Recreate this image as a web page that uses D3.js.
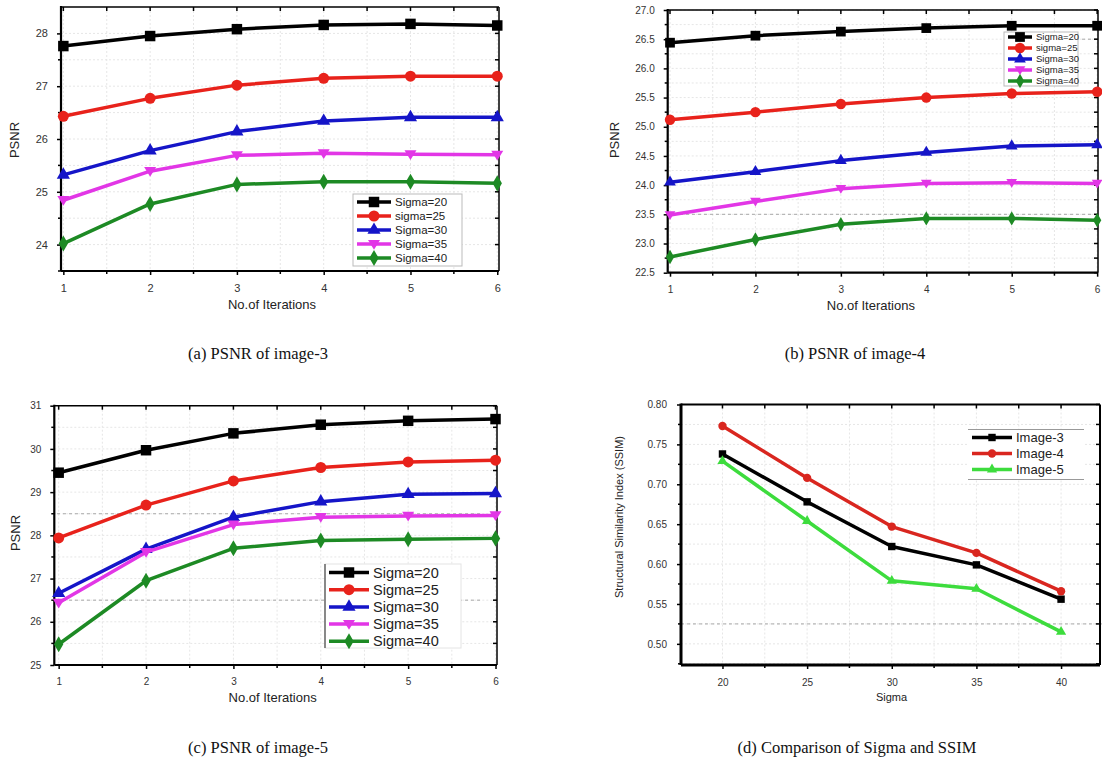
<!DOCTYPE html>
<html>
<head>
<meta charset="utf-8">
<script src="https://cdn.jsdelivr.net/npm/d3@7/dist/d3.min.js"></script>
<style>
  body { margin: 0; background: #fff; }
  svg { display: block; }
  .tick text { font-family: "Liberation Sans", Arial, sans-serif; fill: #333; }
  .cap { font-family: "Liberation Serif", "Times New Roman", serif; font-size: 16.5px; fill: #111; }
</style>
</head>
<body>
<svg id="fig" width="1102" height="767"></svg>
<script>
// ---- data ----
var iterations = [1, 2, 3, 4, 5, 6];
var sigmaNames = ['Sigma=20', 'sigma=25', 'Sigma=30', 'Sigma=35', 'Sigma=40'];
var sigmaNamesC = ['Sigma=20', 'Sigma=25', 'Sigma=30', 'Sigma=35', 'Sigma=40'];

var psnrImg3 = [
    [27.76, 27.95, 28.08, 28.16, 28.18, 28.15],
    [26.43, 26.77, 27.02, 27.15, 27.19, 27.19],
    [25.32, 25.78, 26.14, 26.34, 26.41, 26.41],
    [24.84, 25.39, 25.69, 25.73, 25.71, 25.70],
    [24.02, 24.77, 25.14, 25.19, 25.19, 25.16]
];
var psnrImg4 = [
    [26.44, 26.56, 26.63, 26.69, 26.73, 26.73],
    [25.12, 25.25, 25.39, 25.50, 25.57, 25.60],
    [24.05, 24.23, 24.42, 24.56, 24.67, 24.69],
    [23.49, 23.72, 23.94, 24.03, 24.04, 24.03],
    [22.77, 23.07, 23.33, 23.43, 23.43, 23.40]
];
var psnrImg5 = [
    [29.45, 29.97, 30.36, 30.56, 30.65, 30.69],
    [27.94, 28.70, 29.26, 29.57, 29.70, 29.74],
    [26.66, 27.68, 28.42, 28.78, 28.95, 28.97],
    [26.44, 27.61, 28.25, 28.42, 28.45, 28.46],
    [25.48, 26.95, 27.70, 27.88, 27.91, 27.93]
];

var sigmas = [20, 25, 30, 35, 40];
var imageNames = ['Image-3', 'Image-4', 'Image-5'];
var ssim = [
    [0.738, 0.678, 0.622, 0.599, 0.556],
    [0.773, 0.708, 0.647, 0.614, 0.566],
    [0.729, 0.654, 0.579, 0.569, 0.515]
];

var captions = ['(a) PSNR of image-3', '(b) PSNR of image-4', '(c) PSNR of image-5', '(d) Comparison of Sigma and SSIM'];

// ---- styles ----
var psnrColors = ['#000000', '#e8221b', '#1515c8', '#e236e6', '#1d8a24'];
var ssimColors = ['#000000', '#d9261f', '#3ddc3d'];

var triDown = {
    draw: function (ctx, size) {
        var h = Math.sqrt(size * 0.75);
        ctx.moveTo(0, h * 0.75);
        ctx.lineTo(h * 0.8, -h * 0.55);
        ctx.lineTo(-h * 0.8, -h * 0.55);
        ctx.closePath();
    }
};
var psnrShapes = [d3.symbolSquare, d3.symbolCircle, d3.symbolTriangle, triDown, d3.symbolDiamond];
var ssimShapes = [d3.symbolSquare, d3.symbolCircle, d3.symbolTriangle];

var svg = d3.select('#fig');

function drawPanel(p) {
    var x = d3.scaleLinear().domain(p.xDomain).range([p.left, p.right]);
    var y = d3.scaleLinear().domain(p.yDomain).range([p.bottom, p.top]);
    var g = svg.append('g');

    // grid
    var grid = g.append('g').attr('stroke', '#e6e6e6').attr('stroke-dasharray', '2,2').attr('stroke-width', 1);
    grid.selectAll('line.gx').data(p.xMinor.concat(p.xTicks)).enter().append('line')
        .attr('x1', function (d) { return x(d); }).attr('x2', function (d) { return x(d); })
        .attr('y1', p.top).attr('y2', p.bottom);
    grid.selectAll('line.gy').data(p.yMinor.concat(p.yTicks)).enter().append('line')
        .attr('y1', function (d) { return y(d); }).attr('y2', function (d) { return y(d); })
        .attr('x1', p.left).attr('x2', p.right);
    if (p.darkDash) {
        g.append('g').selectAll('line').data(p.darkDash).enter().append('line')
            .attr('x1', function (d) { return d[1]; }).attr('x2', function (d) { return d[2]; })
            .attr('y1', function (d) { return y(d[0]); }).attr('y2', function (d) { return y(d[0]); })
            .attr('stroke', '#aaa').attr('stroke-dasharray', '3,3').attr('stroke-width', 1);
    }

    // axes
    var ax = g.append('g').attr('transform', 'translate(0,' + p.bottom + ')')
        .call(d3.axisBottom(x).tickValues(p.xTicks).tickSize(4).tickPadding(p.tickPad).tickFormat(p.xFormat));
    var ay = g.append('g').attr('transform', 'translate(' + p.left + ',0)')
        .call(d3.axisLeft(y).tickValues(p.yTicks).tickSize(4).tickPadding(p.tickPad).tickFormat(p.yFormat));
    [ax, ay].forEach(function (a) {
        a.select('.domain').remove();
        a.selectAll('.tick line').attr('stroke', '#000').attr('stroke-width', 1.5);
        a.selectAll('.tick text').style('font-size', p.tickFont + 'px');
    });

    // minor and mirror ticks
    var tk = g.append('g').attr('stroke', '#000').attr('stroke-width', 1.5);
    tk.selectAll('line.bm').data(p.xMinor).enter().append('line')
        .attr('x1', function (d) { return x(d); }).attr('x2', function (d) { return x(d); })
        .attr('y1', p.bottom).attr('y2', p.bottom + 3);
    tk.selectAll('line.lm').data(p.yMinor).enter().append('line')
        .attr('y1', function (d) { return y(d); }).attr('y2', function (d) { return y(d); })
        .attr('x1', p.left).attr('x2', p.left - 3);
    tk.selectAll('line.tt').data(p.xMinor.concat(p.xTicks)).enter().append('line')
        .attr('x1', function (d) { return x(d); }).attr('x2', function (d) { return x(d); })
        .attr('y1', p.top).attr('y2', p.top + 4);
    tk.selectAll('line.rt').data(p.yMinor.concat(p.yTicks)).enter().append('line')
        .attr('y1', function (d) { return y(d); }).attr('y2', function (d) { return y(d); })
        .attr('x1', p.right).attr('x2', p.right - 4);

    // frame
    g.append('line').attr('x1', p.left).attr('x2', p.right).attr('y1', p.top).attr('y2', p.top)
        .attr('stroke', '#000').attr('stroke-width', p.thin);
    g.append('line').attr('x1', p.right).attr('x2', p.right).attr('y1', p.top).attr('y2', p.bottom)
        .attr('stroke', '#000').attr('stroke-width', p.thin);
    g.append('line').attr('x1', p.left).attr('x2', p.right).attr('y1', p.bottom).attr('y2', p.bottom)
        .attr('stroke', '#000').attr('stroke-width', p.thick);
    g.append('line').attr('x1', p.left).attr('x2', p.left).attr('y1', p.top - 1).attr('y2', p.bottom)
        .attr('stroke', '#000').attr('stroke-width', p.thick);

    // axis titles
    g.append('text').attr('x', (p.left + p.right) / 2 + p.xTitleDx).attr('y', p.xTitleY)
        .attr('text-anchor', 'middle').attr('font-family', 'Liberation Sans, Arial, sans-serif')
        .attr('font-size', p.titleFont).attr('fill', '#222').text(p.xTitle);
    g.append('text').attr('transform', 'translate(' + p.yTitleX + ',' + p.yTitleY + ') rotate(-90)')
        .attr('text-anchor', 'middle').attr('font-family', 'Liberation Sans, Arial, sans-serif')
        .attr('font-size', p.titleFont).attr('fill', '#222').text(p.yTitle);

    // series
    var line = d3.line().x(function (d) { return x(d[0]); }).y(function (d) { return y(d[1]); });
    var plot = g.append('g');
    p.series.forEach(function (vals, i) {
        var pts = p.xs.map(function (xv, j) { return [xv, vals[j]]; });
        plot.append('path').datum(pts).attr('d', line).attr('fill', 'none')
            .attr('stroke', p.colors[i]).attr('stroke-width', p.lineW).attr('stroke-linejoin', 'round');
        plot.selectAll('path.m' + i).data(pts).enter().append('path')
            .attr('d', d3.symbol().type(p.shapes[i]).size(p.markSize[i]))
            .attr('transform', function (d) { return 'translate(' + x(d[0]) + ',' + y(d[1]) + ')'; })
            .attr('fill', p.colors[i]);
    });

    // legend
    var L = p.legend;
    var lg = g.append('g');
    lg.append('rect').attr('x', L.x).attr('y', L.y).attr('width', L.w).attr('height', L.h)
        .attr('fill', '#fff').attr('stroke', L.border).attr('stroke-width', 1);
    if (L.leftEdge) {
        lg.append('line').attr('x1', L.x).attr('x2', L.x).attr('y1', L.y).attr('y2', L.y + L.h)
            .attr('stroke', '#444').attr('stroke-width', 1.2);
    }
    if (L.rules) {
        [L.y, L.y + L.h].forEach(function (ry) {
            lg.append('line').attr('x1', L.x).attr('x2', L.x + L.w).attr('y1', ry).attr('y2', ry)
                .attr('stroke', '#999');
        });
    }
    p.names.forEach(function (name, i) {
        var yy = L.y + L.pad + i * L.step;
        lg.append('line').attr('x1', L.x + 4).attr('x2', L.x + 4 + L.sample).attr('y1', yy).attr('y2', yy)
            .attr('stroke', p.colors[i]).attr('stroke-width', p.lineW);
        lg.append('path').attr('d', d3.symbol().type(p.shapes[i]).size(p.markSize[i]))
            .attr('transform', 'translate(' + (L.x + 4 + L.sample / 2) + ',' + yy + ')')
            .attr('fill', p.colors[i]);
        lg.append('text').attr('x', L.x + 8 + L.sample).attr('y', yy).attr('dy', '0.35em')
            .attr('font-family', 'Liberation Sans, Arial, sans-serif').attr('font-size', L.font)
            .attr('fill', '#222').text(name);
    });
}

var iterMinor = [1.5, 2.5, 3.5, 4.5, 5.5];

drawPanel({
    left: 61, right: 499, top: 7, bottom: 271,
    xDomain: [0.973, 6.02], yDomain: [23.5, 28.5],
    xTicks: iterations, xMinor: iterMinor,
    yTicks: [24, 25, 26, 27, 28], yMinor: [23.5, 24.5, 25.5, 26.5, 27.5],
    xFormat: d3.format('d'), yFormat: d3.format('d'),
    tickFont: 11, tickPad: 9, thin: 1.5, thick: 2.2,
    xTitle: 'No.of Iterations', xTitleY: 309, xTitleDx: -8,
    yTitle: 'PSNR', yTitleX: 19, yTitleY: 140, titleFont: 13,
    xs: iterations, series: psnrImg3, names: sigmaNames,
    colors: psnrColors, shapes: psnrShapes, markSize: [110, 95, 75, 75, 75], lineW: 3.5,
    legend: { x: 353, y: 194, w: 109, h: 72, pad: 8, step: 14, sample: 34, font: 11.5, border: '#bbb' }
});

drawPanel({
    left: 667.7, right: 1098, top: 10, bottom: 272.7,
    xDomain: [0.973, 6.01], yDomain: [22.5, 27.0],
    xTicks: iterations, xMinor: iterMinor,
    yTicks: d3.range(22.5, 27.01, 0.5), yMinor: d3.range(22.75, 27, 0.5),
    xFormat: d3.format('d'), yFormat: d3.format('.1f'),
    tickFont: 10, tickPad: 9, thin: 1.5, thick: 2.2,
    xTitle: 'No.of Iterations', xTitleY: 310, xTitleDx: -12,
    yTitle: 'PSNR', yTitleX: 619, yTitleY: 140, titleFont: 13,
    xs: iterations, series: psnrImg4, names: sigmaNames,
    colors: psnrColors, shapes: psnrShapes, markSize: [95, 85, 60, 60, 60], lineW: 3.5,
    darkDash: [[26.5, 1040, 1098], [23.5, 680, 1098]],
    legend: { x: 1004, y: 32, w: 74, h: 54, pad: 5, step: 11, sample: 24, font: 9.5, border: '#bbb' }
});

drawPanel({
    left: 54.3, right: 497, top: 405.7, bottom: 665,
    xDomain: [0.95, 6.017], yDomain: [25, 31],
    xTicks: iterations, xMinor: iterMinor,
    yTicks: [25, 26, 27, 28, 29, 30, 31], yMinor: [25.5, 26.5, 27.5, 28.5, 29.5, 30.5],
    xFormat: d3.format('d'), yFormat: d3.format('d'),
    tickFont: 10, tickPad: 9, thin: 1.5, thick: 2.2,
    xTitle: 'No.of Iterations', xTitleY: 702, xTitleDx: -3,
    yTitle: 'PSNR', yTitleX: 20, yTitleY: 533, titleFont: 13,
    xs: iterations, series: psnrImg5, names: sigmaNamesC,
    colors: psnrColors, shapes: psnrShapes, markSize: [110, 95, 75, 75, 75], lineW: 3.5,
    darkDash: [[28.5, 57, 480], [26.5, 57, 480]],
    legend: { x: 325, y: 564, w: 136, h: 84, pad: 8.5, step: 17.2, sample: 40, font: 14.5, border: '#e4e4e4', leftEdge: true }
});

drawPanel({
    left: 681, right: 1100, top: 404.5, bottom: 665,
    xDomain: [17.55, 42.3], yDomain: [0.4735, 0.80],
    xTicks: sigmas, xMinor: [22.5, 27.5, 32.5, 37.5],
    yTicks: d3.range(0.5, 0.801, 0.05), yMinor: d3.range(0.525, 0.8, 0.05).concat([0.475]),
    xFormat: d3.format('d'), yFormat: d3.format('.2f'),
    tickFont: 10, tickPad: 10, thin: 2, thick: 3,
    xTitle: 'Sigma', xTitleY: 701, xTitleDx: 1,
    yTitle: 'Structural Similarity Index (SSIM)', yTitleX: 623, yTitleY: 517, titleFont: 11,
    xs: sigmas, series: ssim, names: imageNames,
    colors: ssimColors, shapes: ssimShapes, markSize: [55, 55, 45], lineW: 3.5,
    darkDash: [[0.525, 681, 1102]],
    legend: { x: 968, y: 429.5, w: 116, h: 50, pad: 8, step: 16, sample: 40, font: 13, border: 'none', rules: true }
});

// captions
var capPos = [[258, 359], [855, 359], [258, 753], [857, 753]];
svg.selectAll('text.cap').data(captions).enter().append('text')
    .attr('class', 'cap')
    .attr('x', function (d, i) { return capPos[i][0]; })
    .attr('y', function (d, i) { return capPos[i][1]; })
    .attr('text-anchor', 'middle')
    .text(function (d) { return d; });
</script>
</body>
</html>
